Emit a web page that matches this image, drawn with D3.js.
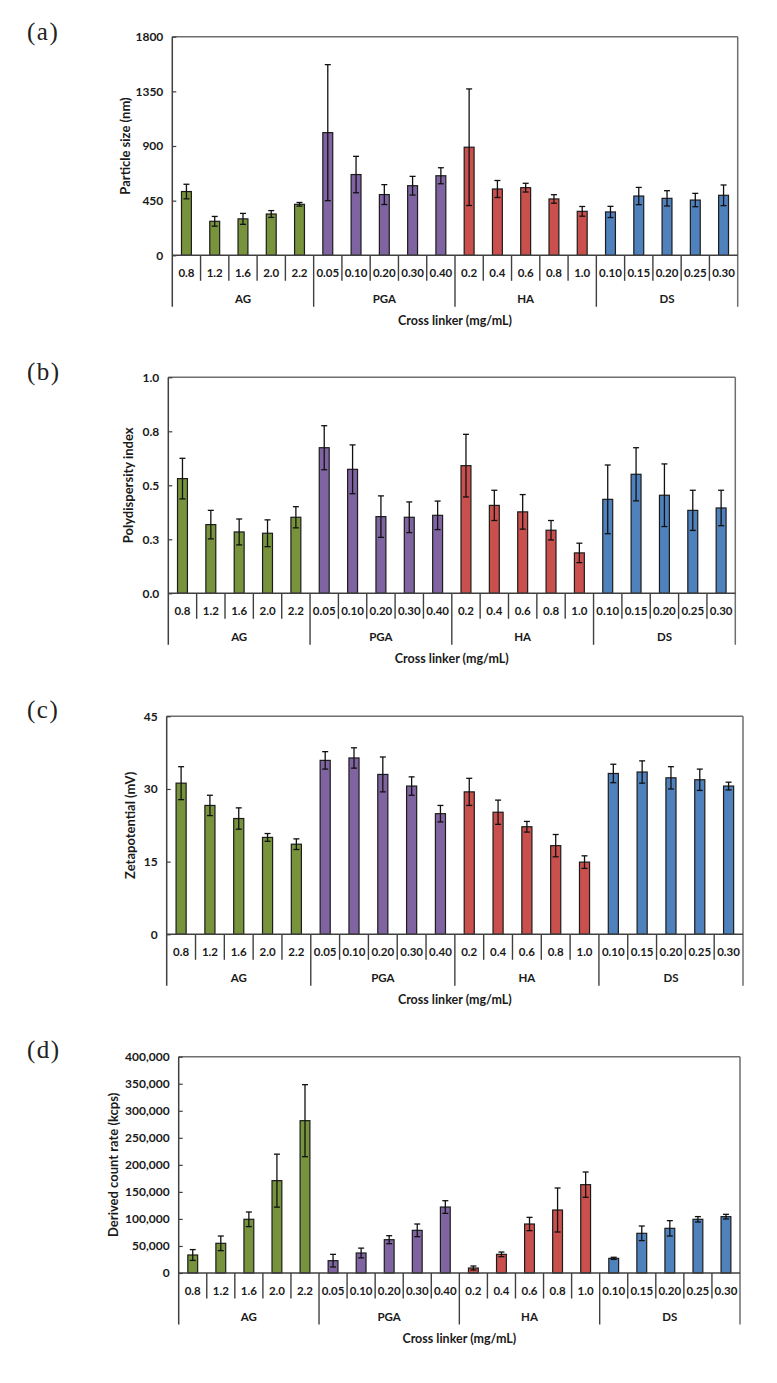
<!DOCTYPE html>
<html>
<head>
<meta charset="utf-8">
<script src="https://cdn.jsdelivr.net/npm/d3@7"></script>
<style>
  html, body { margin: 0; padding: 0; background: #ffffff; }
  svg { display: block; }
  text { font-family: Lato, "Open Sans", sans-serif; fill: #1a1a1a; }
</style>
</head>
<body>
<svg id="chart" width="777" height="1383"></svg>
<script>
// ---------------- DATA ----------------
const groupNames = ["AG", "PGA", "HA", "DS"];
const concAG  = ["0.8", "1.2", "1.6", "2.0", "2.2"];
const concPGA = ["0.05", "0.10", "0.20", "0.30", "0.40"];
const concHA  = ["0.2", "0.4", "0.6", "0.8", "1.0"];
const concDS  = ["0.10", "0.15", "0.20", "0.25", "0.30"];
const groupColors = ["#77933C", "#8064A2", "#C9504D", "#4F81BD"];

const xTitle = "Cross linker (mg/mL)";

// (a) Particle size (nm)
const sizeMean = [525, 280, 300, 340, 420,  1010, 665, 500, 573, 655,  890, 546, 557, 464, 362,  357, 488, 469, 455, 494];
const sizeErr  = [60, 40, 45, 28, 15,        560, 150, 82, 77, 66,     480, 70, 36, 35, 40,      46, 71, 63, 55, 85];
const sizeTicks = [0, 450, 900, 1350, 1800];
const sizeTickLabels = ["0", "450", "900", "1350", "1800"];

// (b) Polydispersity index
const pdiMean = [0.531, 0.318, 0.284, 0.278, 0.352,  0.674, 0.574, 0.355, 0.352, 0.361,  0.591, 0.407, 0.377, 0.292, 0.187,  0.435, 0.551, 0.454, 0.384, 0.395];
const pdiErr  = [0.094, 0.066, 0.060, 0.062, 0.049,  0.102, 0.113, 0.096, 0.071, 0.066,  0.145, 0.070, 0.080, 0.045, 0.045,  0.159, 0.123, 0.145, 0.093, 0.082];
const pdiTicks = [0, 0.25, 0.5, 0.75, 1.0];
const pdiTickLabels = ["0.0", "0.3", "0.5", "0.8", "1.0"];

// (c) Zeta potential (mV)
const zetaMean = [31.2, 26.6, 23.9, 20.0, 18.6,  35.9, 36.4, 33.0, 30.6, 24.9,  29.4, 25.2, 22.2, 18.3, 14.9,  33.2, 33.5, 32.3, 31.9, 30.6];
const zetaErr  = [3.4, 2.1, 2.2, 0.8, 1.1,       1.8, 2.1, 3.6, 1.9, 1.7,       2.8, 2.5, 1.1, 2.3, 1.3,       1.9, 2.3, 2.3, 2.2, 0.8];
const zetaTicks = [0, 15, 30, 45];
const zetaTickLabels = ["0", "15", "30", "45"];

// (d) Derived count rate (kcps)
const countMean = [33300, 54900, 99300, 170800, 281700,  22800, 37000, 61600, 78900, 122000,  9200, 34500, 90600, 116500, 163400,  27100, 73400, 82600, 99300, 104200];
const countErr  = [10000, 13500, 13500, 49000, 66600,    11700, 9000, 7400, 11700, 11700,     3700, 4300, 12300, 40700, 23400,     2000, 13500, 14200, 5000, 4300];
const countTicks = [0, 50000, 100000, 150000, 200000, 250000, 300000, 350000, 400000];
const countTickLabels = ["0", "50,000", "100,000", "150,000", "200,000", "250,000", "300,000", "350,000", "400,000"];

// ---------------- BUILD ----------------
const concByGroup = [concAG, concPGA, concHA, concDS];
const cats = [];
concByGroup.forEach((list, g) => list.forEach(c => cats.push({ label: c, group: g })));

const svg = d3.select("#chart");
const axisColor = "#404040";

const panels = [
  { tag: "(a)", tagY: 31, left: 172.3, right: 737.7, top: 36.7, zero: 255.3, yTitleX: 125,
    yTitle: "Particle size (nm)", mean: sizeMean, err: sizeErr, ticks: sizeTicks, tickLabels: sizeTickLabels },
  { tag: "(b)", tagY: 371, left: 168.3, right: 735.3, top: 377.3, zero: 593.3, yTitleX: 128,
    yTitle: "Polydispersity index", mean: pdiMean, err: pdiErr, ticks: pdiTicks, tickLabels: pdiTickLabels },
  { tag: "(c)", tagY: 709, left: 166.7, right: 743, top: 716.3, zero: 934.3, yTitleX: 130,
    yTitle: "Zetapotential (mV)", mean: zetaMean, err: zetaErr, ticks: zetaTicks, tickLabels: zetaTickLabels },
  { tag: "(d)", tagY: 1049, left: 178.7, right: 740, top: 1056.7, zero: 1273, yTitleX: 113,
    yTitle: "Derived count rate (kcps)", mean: countMean, err: countErr, ticks: countTicks, tickLabels: countTickLabels }
];

panels.forEach(p => {
  const g = svg.append("g");
  const maxV = p.ticks[p.ticks.length - 1];
  const y = d3.scaleLinear().domain([0, maxV]).range([p.zero, p.top]);
  const x = d3.scaleBand().domain(d3.range(cats.length)).range([p.left, p.right]).paddingInner(0).paddingOuter(0);
  const bw = x.bandwidth();
  const barW = bw * 0.35;

  const shortEnd = p.zero + 25.5;
  const longEnd = p.zero + 51.5;

  // panel tag
  g.append("text").attr("x", 27).attr("y", p.tagY).attr("dy", "0.35em")
    .style("font-family", "'Liberation Serif', 'DejaVu Serif', serif")
    .style("font-size", "25px").style("letter-spacing", "1.5px").style("fill", "#222")
    .text(p.tag);

  // frame: top and right
  g.append("line").attr("x1", p.left).attr("x2", p.right).attr("y1", p.top).attr("y2", p.top)
    .attr("stroke", "#6e6e6e").attr("stroke-width", 1.5);
  g.append("line").attr("x1", p.right).attr("x2", p.right).attr("y1", p.top).attr("y2", longEnd)
    .attr("stroke", "#6e6e6e").attr("stroke-width", 1.5);
  g.append("line").attr("x1", p.left).attr("x2", p.left).attr("y1", p.top).attr("y2", longEnd)
    .attr("stroke", axisColor).attr("stroke-width", 1.5);

  // y axis
  const yAxis = d3.axisLeft(y).tickValues(p.ticks)
    .tickFormat((d, i) => p.tickLabels[i])
    .tickSizeInner(-4).tickSizeOuter(0).tickPadding(9);
  const ya = g.append("g").attr("transform", `translate(${p.left},0)`).call(yAxis);
  ya.select(".domain").remove();
  ya.selectAll(".tick line").attr("stroke", axisColor).attr("stroke-width", 1.2);
  ya.selectAll(".tick text").style("font-family", "Lato, sans-serif").style("font-size", "12px")
    .style("font-weight", "bold").style("fill", "#1a1a1a");

  // y title
  g.append("text")
    .attr("transform", `translate(${p.yTitleX},${(p.top + p.zero) / 2}) rotate(-90)`)
    .attr("text-anchor", "middle").attr("dy", "0.35em")
    .style("font-size", "13px").style("font-weight", "bold")
    .text(p.yTitle);

  // bars
  g.append("g").selectAll("rect").data(cats).join("rect")
    .attr("x", (d, i) => x(i) + (bw - barW) / 2)
    .attr("width", barW)
    .attr("y", (d, i) => y(p.mean[i]))
    .attr("height", (d, i) => y(0) - y(p.mean[i]))
    .attr("fill", d => groupColors[d.group])
    .attr("stroke", "#1c1c1c").attr("stroke-width", 1.2);

  // error bars
  const eg = g.append("g").attr("stroke", "#111").attr("stroke-width", 1.3);
  cats.forEach((d, i) => {
    const cx = x(i) + bw / 2;
    const lo = Math.max(0, p.mean[i] - p.err[i]);
    const hi = p.mean[i] + p.err[i];
    eg.append("line").attr("x1", cx).attr("x2", cx).attr("y1", y(lo)).attr("y2", y(hi));
    eg.append("line").attr("x1", cx - 3).attr("x2", cx + 3).attr("y1", y(hi)).attr("y2", y(hi));
    eg.append("line").attr("x1", cx - 3).attr("x2", cx + 3).attr("y1", y(lo)).attr("y2", y(lo));
  });

  // zero baseline
  g.append("line").attr("x1", p.left).attr("x2", p.right).attr("y1", y(0)).attr("y2", y(0))
    .attr("stroke", axisColor).attr("stroke-width", 1.5);

  // category separators
  for (let i = 1; i < cats.length; i++) {
    const isLong = i % 5 === 0;
    g.append("line").attr("x1", x(i)).attr("x2", x(i))
      .attr("y1", y(0)).attr("y2", isLong ? longEnd : shortEnd)
      .attr("stroke", axisColor).attr("stroke-width", 1.4);
  }

  // category labels
  g.append("g").selectAll("text").data(cats).join("text")
    .attr("x", (d, i) => x(i) + bw / 2)
    .attr("y", p.zero + 17.5).attr("dy", "0.35em")
    .attr("text-anchor", "middle")
    .style("font-size", "11.5px").style("font-weight", "bold")
    .text(d => d.label);

  // group labels
  groupNames.forEach((name, gi) => {
    const x0 = x(gi * 5), x1 = x(gi * 5 + 4) + bw;
    g.append("text").attr("x", (x0 + x1) / 2).attr("y", p.zero + 43.7).attr("dy", "0.35em")
      .attr("text-anchor", "middle")
      .style("font-size", "11.5px").style("font-weight", "bold")
      .text(name);
  });

  // x title
  g.append("text").attr("x", (p.left + p.right) / 2).attr("y", p.zero + 65.5).attr("dy", "0.35em")
    .attr("text-anchor", "middle")
    .style("font-size", "12.5px").style("font-weight", "bold")
    .text(xTitle);
});
</script>
</body>
</html>
